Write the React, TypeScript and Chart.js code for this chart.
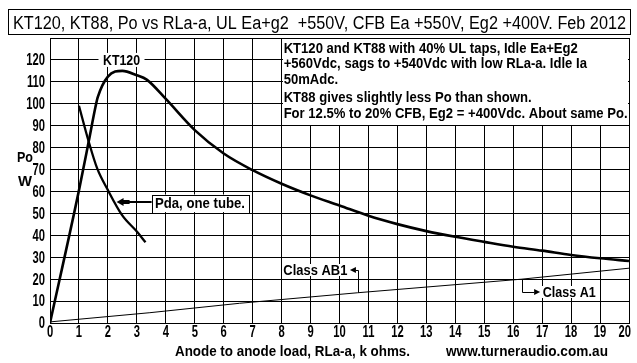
import React, { useEffect, useRef } from "react";
import { Chart, registerables } from "chart.js";
Chart.register(...registerables);

// ---- data ----
const kt120X = [0, 1, 1.34, 1.57, 1.65, 2, 2.5, 3, 3.34, 4, 5, 6, 7, 8, 9, 10, 11, 12, 13, 14, 15, 16, 17, 18, 19, 20];
const kt120Y = [0, 60.5, 83, 98.5, 103, 112.4, 115, 113, 111, 102.2, 88, 77.3, 69.7, 63.5, 58.2, 53.6, 48.9, 45.1, 41.9, 39.3, 37.0, 34.8, 33.0, 31.0, 29.5, 28.3];
const pdaX = [1, 1.34, 1.63, 2, 2.49, 3, 3.3];
const pdaY = [99.1, 82.6, 70.5, 60.6, 49.2, 41.7, 36.8];
const classAX = [0, 3.45, 6.55, 10.63, 16.3, 20];
const classAY = [0.5, 4.7, 9.0, 13.8, 20.0, 25.0];

const X_MIN = 0, X_MAX = 20, X_STEP = 1;
const Y_MIN = 0, Y_MAX = 130, Y_STEP = 10;
const Y_HIDDEN_TICK = 130;

// ---- text ----
const titleText = "KT120, KT88, Po vs RLa-a, UL Ea+g2  +550V, CFB Ea +550V, Eg2 +400V. Feb 2012";
const noteLines = [
  "KT120 and KT88 with 40% UL taps, Idle Ea+Eg2",
  "+560Vdc, sags to +540Vdc with low RLa-a. Idle Ia",
  "50mAdc.",
  "KT88 gives slightly less Po than shown.",
  "For 12.5% to 20% CFB, Eg2 = +400Vdc. About same Po.",
];
const xAxisTitle = "Anode to anode load, RLa-a, k ohms.";
const siteText = "www.turneraudio.com.au";
const yTitle1 = "Po";
const yTitle2 = "W";
const kt120Label = "KT120";
const pdaLabel = "Pda, one tube.";
const ab1Label = "Class AB1";
const a1Label = "Class A1";

// ---- annotation placement (data units) ----
const NOTE_BOX = { x0: 8, x1: 20, y0: 90, y1: 130 };
const NOTE_TEXT_X = 8.07;
const NOTE_BASE_Y = [123.3, 116.2, 108.9, 100.9, 93.6];
const KT120_POS = { x: 2.47, y: 120 };
const PDA_BOX = { x0: 3.51, x1: 6.85, y0: 50.6, y1: 58.6, arrowX: 2.3, arrowY: 55 };
const AB1 = { textX: 8.06, y: 24, tipX: 10.36, cornerX: 10.65, lineY: 13.8 };
const A1 = { cornerX: 16.29, lineY: 19.9, y: 14.1, tipX: 16.93, textX: 17.02 };

const BOLD = '"Liberation Sans Narrow", "Arial Narrow", "Liberation Sans", Arial, sans-serif';
const REG = '"Liberation Sans", Arial, "DejaVu Sans", sans-serif';
const TICK_FONT = `bold 16px "Liberation Sans", Arial, sans-serif`;
const TICK_SX = 0.7;

function fitText(ctx: CanvasRenderingContext2D, text: string, x: number, y: number, w: number, align: CanvasTextAlign = "left") {
  const m = ctx.measureText(text).width;
  ctx.save();
  ctx.translate(x, y);
  ctx.scale(w / m, 1);
  ctx.textAlign = align;
  ctx.fillText(text, 0, 0);
  ctx.restore();
}

function squeezeText(ctx: CanvasRenderingContext2D, text: string, x: number, y: number, sx: number, align: CanvasTextAlign) {
  ctx.save();
  ctx.translate(x, y);
  ctx.scale(sx, 1);
  ctx.textAlign = align;
  ctx.fillText(text, 0, 0);
  ctx.restore();
}

function tri(ctx: CanvasRenderingContext2D, tipX: number, y: number, dir: number, len: number, half: number) {
  ctx.beginPath();
  ctx.moveTo(tipX, y);
  ctx.lineTo(tipX + dir * len, y - half);
  ctx.lineTo(tipX + dir * len, y + half);
  ctx.closePath();
  ctx.fill();
}

const annotPlugin = {
  id: "annot",
  afterDatasetsDraw(chart: any) {
    const { ctx } = chart;
    const xs = chart.scales.x, ys = chart.scales.y;
    const px = (v: number) => xs.getPixelForValue(v);
    const py = (v: number) => ys.getPixelForValue(v);
    ctx.save();
    ctx.fillStyle = "#fff";
    // note box
    const L = Math.round(px(NOTE_BOX.x0)) + 1, R = Math.round(px(NOTE_BOX.x1)) - 1;
    const T = Math.round(py(NOTE_BOX.y1)) + 1, B = Math.round(py(NOTE_BOX.y0)) - 1;
    ctx.fillRect(L, T, R - L, B - T);
    ctx.fillStyle = "#000";
    ctx.textBaseline = "alphabetic";
    ctx.font = `bold 15px ${BOLD}`;
    const sx = 344 / ctx.measureText(noteLines[4]).width;
    noteLines.forEach((t, i) => {
      const w = ctx.measureText(t).width * sx;
      fitText(ctx, t, px(NOTE_TEXT_X), py(NOTE_BASE_Y[i]), w);
    });

    // KT120 label
    ctx.textBaseline = "middle";
    const kx = px(KT120_POS.x), ky = py(KT120_POS.y);
    ctx.fillStyle = "#fff";
    ctx.fillRect(kx - 23, ky - 7, 46, 14);
    ctx.fillStyle = "#000";
    fitText(ctx, kt120Label, kx, ky + 1, 37, "center");

    // Pda box
    const bx0 = px(PDA_BOX.x0), bx1 = px(PDA_BOX.x1), by0 = py(PDA_BOX.y1), by1 = py(PDA_BOX.y0);
    ctx.fillStyle = "#fff";
    ctx.fillRect(bx0, by0, bx1 - bx0, by1 - by0);
    ctx.strokeStyle = "#000";
    ctx.lineWidth = 1;
    ctx.strokeRect(Math.round(bx0) + 0.5, Math.round(by0) + 0.5, Math.round(bx1 - bx0), Math.round(by1 - by0));
    ctx.fillStyle = "#000";
    fitText(ctx, pdaLabel, (bx0 + bx1) / 2, (by0 + by1) / 2 + 1, 90, "center");
    const ay = Math.round(py(PDA_BOX.arrowY));
    const atip = px(PDA_BOX.arrowX);
    ctx.lineWidth = 2;
    ctx.beginPath();
    ctx.moveTo(atip + 6, ay);
    ctx.lineTo(bx0, ay);
    ctx.stroke();
    ctx.fillRect(atip + 6, ay - 2, 7, 4);
    tri(ctx, atip, ay, 1, 7, 4);

    // Class AB1
    ctx.lineWidth = 1;
    const ab1y = Math.round(py(AB1.y));
    const ab1x = px(AB1.textX);
    ctx.fillStyle = "#fff";
    ctx.fillRect(ab1x - 1, ab1y - 6, px(AB1.tipX) - ab1x + 2, 12);
    ctx.fillStyle = "#000";
    fitText(ctx, ab1Label, ab1x, ab1y + 1, 64);
    tri(ctx, px(AB1.tipX), ab1y, 1, 6, 3);
    const cx1 = Math.round(px(AB1.cornerX)) + 0.5;
    ctx.beginPath();
    ctx.moveTo(px(AB1.tipX) + 6, ab1y + 0.5);
    ctx.lineTo(cx1, ab1y + 0.5);
    ctx.lineTo(cx1, py(AB1.lineY));
    ctx.stroke();

    // Class A1
    const a1y = Math.round(py(A1.y));
    const a1x = px(A1.textX);
    ctx.fillStyle = "#fff";
    ctx.fillRect(a1x - 1, a1y - 6, 57, 12);
    ctx.fillStyle = "#000";
    fitText(ctx, a1Label, a1x, a1y + 1, 53);
    tri(ctx, px(A1.tipX), a1y, -1, 6, 3);
    const cx2 = Math.round(px(A1.cornerX)) + 0.5;
    ctx.beginPath();
    ctx.moveTo(cx2, py(A1.lineY));
    ctx.lineTo(cx2, a1y + 0.5);
    ctx.lineTo(px(A1.tipX) - 6, a1y + 0.5);
    ctx.stroke();

    ctx.restore();
  },
  afterDraw(chart: any) {
    const { ctx, chartArea } = chart;
    const xs = chart.scales.x, ys = chart.scales.y;
    ctx.save();
    ctx.fillStyle = "#000";
    ctx.strokeStyle = "#000";
    ctx.lineWidth = 1;
    // tick labels (from the scales' own ticks)
    ctx.font = TICK_FONT;
    ctx.textBaseline = "middle";
    ys.ticks.forEach((t: any) => {
      if (t.value === Y_HIDDEN_TICK) return;
      squeezeText(ctx, String(t.value), chartArea.left - 5, ys.getPixelForValue(t.value) + 1, TICK_SX, "right");
    });
    ctx.textBaseline = "top";
    xs.ticks.forEach((t: any) => {
      const s = String(t.value);
      let cx = xs.getPixelForValue(t.value);
      const half = (ctx.measureText(s).width * TICK_SX) / 2;
      if (cx + half > 631) cx = 631 - half;
      squeezeText(ctx, s, cx, chartArea.bottom + 2, TICK_SX, "center");
    });
    // title box
    ctx.strokeRect(8.5, 9.5, 622, 25);
    ctx.font = `18px ${REG}`;
    ctx.textBaseline = "alphabetic";
    fitText(ctx, titleText, 13, 28.5, 613);
    // axis titles
    ctx.font = `bold 15px ${BOLD}`;
    ctx.textBaseline = "middle";
    fitText(ctx, xAxisTitle, 175, 352, 235);
    fitText(ctx, siteText, 446, 352, 162);
    fitText(ctx, yTitle1, 25, ys.getPixelForValue(75.2), 16, "center");
    fitText(ctx, yTitle2, 25, ys.getPixelForValue(64.2), 14, "center");
    ctx.restore();
  },
};

export default function App() {
  const ref = useRef<HTMLCanvasElement>(null);
  useEffect(() => {
    if (!ref.current) return;
    const toPts = (xs: number[], ys: number[]) => xs.map((x, i) => ({ x, y: ys[i] }));
    const chart = new Chart(ref.current, {
      type: "line",
      data: {
        datasets: [
          { data: toPts(kt120X, kt120Y), borderColor: "#000", borderWidth: 2.6, pointRadius: 0, cubicInterpolationMode: "monotone" },
          { data: toPts(pdaX, pdaY), borderColor: "#000", borderWidth: 2.3, pointRadius: 0, cubicInterpolationMode: "monotone" },
          { data: toPts(classAX, classAY), borderColor: "#000", borderWidth: 1, pointRadius: 0, tension: 0 },
        ],
      },
      options: {
        animation: false,
        responsive: false,
        events: [],
        layout: { padding: { top: 38, right: 8, left: 0, bottom: 0 } },
        plugins: { legend: { display: false }, tooltip: { enabled: false }, title: { display: false } },
        scales: {
          x: {
            type: "linear",
            min: X_MIN,
            max: X_MAX,
            afterFit: (s: any) => { s.height = 40; },
            ticks: { stepSize: X_STEP, display: false, autoSkip: false },
            grid: { color: "#000", lineWidth: 1, drawTicks: false },
            border: { color: "#000", width: 1 },
          },
          y: {
            type: "linear",
            min: Y_MIN,
            max: Y_MAX,
            afterFit: (s: any) => { s.width = 50; },
            ticks: { stepSize: Y_STEP, display: false },
            grid: { color: "#000", lineWidth: 1, drawTicks: false },
            border: { color: "#000", width: 1 },
          },
        },
      },
      plugins: [annotPlugin],
    });
    return () => chart.destroy();
  }, []);
  return (
    <div style={{ position: "absolute", left: 0, top: 0, width: 637, height: 363, background: "#fff" }}>
      <canvas ref={ref} width={637} height={363} style={{ display: "block" }} />
    </div>
  );
}
